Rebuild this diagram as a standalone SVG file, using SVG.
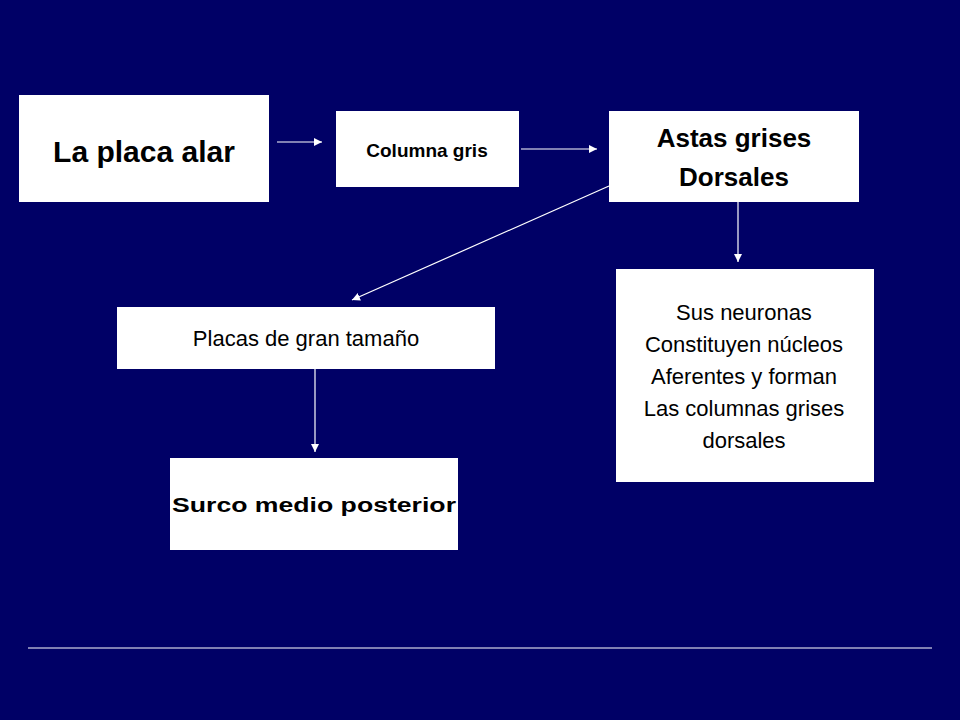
<svg xmlns="http://www.w3.org/2000/svg" width="960" height="720" viewBox="0 0 960 720">
<defs>
<style>
.box{fill:#fff}
.t{font-family:"Liberation Sans",Arial,sans-serif;fill:#000;text-anchor:middle}
.b{font-weight:bold}
.c{stroke:#fff;stroke-width:1.2;fill:none;marker-end:url(#ah)}
</style>
<marker id="ah" viewBox="0 0 10 10" refX="10" refY="5" markerWidth="8" markerHeight="8" markerUnits="userSpaceOnUse" orient="auto"><path d="M0,0L10,5L0,10z" fill="#fff"/></marker>
</defs>
<rect width="960" height="720" fill="#000066"/>
<g id="n1"><rect class="box" x="19" y="95" width="250" height="107"/><text class="t b" x="144" y="162" font-size="30">La placa alar</text></g>
<g id="n2"><rect class="box" x="336" y="111" width="183" height="76"/><text class="t b" x="427" y="157" font-size="19">Columna gris</text></g>
<g id="n3"><rect class="box" x="609" y="111" width="250" height="91"/><text class="t b" x="734" y="147" font-size="26">Astas grises</text><text class="t b" x="734" y="186" font-size="26">Dorsales</text></g>
<g id="n4"><rect class="box" x="117" y="307" width="378" height="62"/><text class="t" x="306" y="346" font-size="22">Placas de gran tamaño</text></g>
<g id="n5"><rect class="box" x="616" y="269" width="258" height="213"/>
<text class="t" x="744" y="320" font-size="22">Sus neuronas</text>
<text class="t" x="744" y="352" font-size="22">Constituyen núcleos</text>
<text class="t" x="744" y="384" font-size="22">Aferentes y forman</text>
<text class="t" x="744" y="416" font-size="22">Las columnas grises</text>
<text class="t" x="744" y="448" font-size="22">dorsales</text></g>
<g id="n6"><rect class="box" x="170" y="458" width="288" height="92"/><text class="t b" x="314" y="512" font-size="20" textLength="284" lengthAdjust="spacingAndGlyphs">Surco medio posterior</text></g>
<g id="connectors">
<path class="c" d="M277,142H322"/>
<path class="c" d="M521,149H597"/>
<path class="c" d="M609,186L352,300"/>
<path class="c" d="M738,202V262"/>
<path class="c" d="M315,369V452"/>
</g>
<line x1="28" y1="648" x2="932" y2="648" stroke="#fff" stroke-width="1"/>
</svg>
